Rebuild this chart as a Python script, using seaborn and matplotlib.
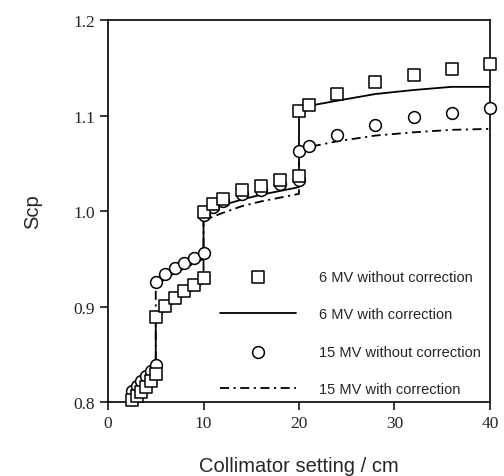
import matplotlib
matplotlib.use("Agg")
import matplotlib.pyplot as plt
import seaborn as sns
import pandas as pd

# collimator settings (cm); repeated values mark the jumps between inserts
field_size = [2.5, 3, 3.5, 4, 4.5, 5,
              5, 6, 7, 8, 9, 10,
              10, 11, 12, 14, 16, 18, 20,
              20, 21, 24, 28, 32, 36, 40]

# measured Scp without correction
scp_6mv_raw = [0.802, 0.806, 0.811, 0.816, 0.822, 0.829,
               0.889, 0.901, 0.909, 0.916, 0.923, 0.930,
               0.999, 1.007, 1.013, 1.022, 1.026, 1.032, 1.037,
               1.105, 1.111, 1.123, 1.135, 1.142, 1.149, 1.154]
scp_15mv_raw = [0.812, 0.817, 0.822, 0.827, 0.833, 0.839,
                0.926, 0.934, 0.940, 0.946, 0.951, 0.956,
                0.996, 1.004, 1.010, 1.018, 1.022, 1.028, 1.033,
                1.063, 1.068, 1.080, 1.090, 1.098, 1.103, 1.108]

# Scp with correction
scp_6mv_corr = [0.803, 0.807, 0.811, 0.816, 0.821, 0.828,
                0.887, 0.897, 0.905, 0.912, 0.918, 0.925,
                0.997, 1.002, 1.006, 1.012, 1.017, 1.021, 1.025,
                1.106, 1.110, 1.1155, 1.1225, 1.1267, 1.130, 1.130]
scp_15mv_corr = [0.811, 0.816, 0.821, 0.826, 0.832, 0.838,
                 0.922, 0.929, 0.935, 0.940, 0.945, 0.950,
                 0.990, 0.994, 0.998, 1.005, 1.010, 1.014, 1.018,
                 1.062, 1.067, 1.073, 1.079, 1.0824, 1.085, 1.086]

labels = ["6 MV without correction", "6 MV with correction",
          "15 MV without correction", "15 MV with correction"]

df = pd.DataFrame({"size": field_size,
                   "raw6": scp_6mv_raw, "raw15": scp_15mv_raw,
                   "corr6": scp_6mv_corr, "corr15": scp_15mv_corr})

sns.set_style("ticks")
plt.rcParams["font.family"] = ["Liberation Sans", "DejaVu Sans"]

fig = plt.figure(figsize=(5.04, 4.77), dpi=100)
ax = fig.add_axes([0.2143, 0.155, 0.7579, 0.801])

# corrected curves (drawn in order so the jumps show as vertical steps)
sns.lineplot(data=df, x="size", y="corr6", estimator=None, sort=False,
             color="black", lw=1.3, ax=ax, label=labels[1], zorder=2)
sns.lineplot(data=df, x="size", y="corr15", estimator=None, sort=False,
             color="black", lw=1.3, ax=ax, label=labels[3], zorder=2,
             dashes=False)
ax.lines[-1].set_dashes([5, 2.5, 1.2, 2.5])

# measured points
sns.scatterplot(data=df, x="size", y="raw15", marker="o", s=72,
                facecolor="white", edgecolor="black", linewidth=1.1,
                ax=ax, label=labels[2], zorder=3, clip_on=False)
sns.scatterplot(data=df, x="size", y="raw6", marker="s", s=72,
                facecolor="white", edgecolor="black", linewidth=1.1,
                ax=ax, label=labels[0], zorder=4, clip_on=False)

ax.set_xlim(0, 40)
ax.set_ylim(0.8, 1.2)
ax.set_xticks([0, 10, 20, 30, 40])
ax.set_yticks([0.8, 0.9, 1.0, 1.1, 1.2])
ax.tick_params(direction="out", length=6, width=1.1, color="black")
for lab in ax.get_xticklabels() + ax.get_yticklabels():
    lab.set_family("Liberation Serif")
    lab.set_fontsize(12.5)
for sp in ax.spines.values():
    sp.set_visible(True)
    sp.set_linewidth(1.2)
    sp.set_color("black")

ax.set_xlabel("Collimator setting / cm", fontsize=14.5, labelpad=18)
ax.set_ylabel("Scp", fontsize=14.5, labelpad=22)

handles, labs = ax.get_legend_handles_labels()
order = [labs.index(l) for l in labels]
ax.legend([handles[i] for i in order], [labs[i] for i in order],
          loc="upper left", bbox_to_anchor=(220 / 504, 1 - 271 / 477),
          bbox_transform=fig.transFigure, frameon=False, fontsize=10.5,
          handlelength=5.2, handletextpad=1.6, labelspacing=1.6,
          borderpad=0, borderaxespad=0, markerscale=1.0)

fig.savefig("out.png", dpi=100)
